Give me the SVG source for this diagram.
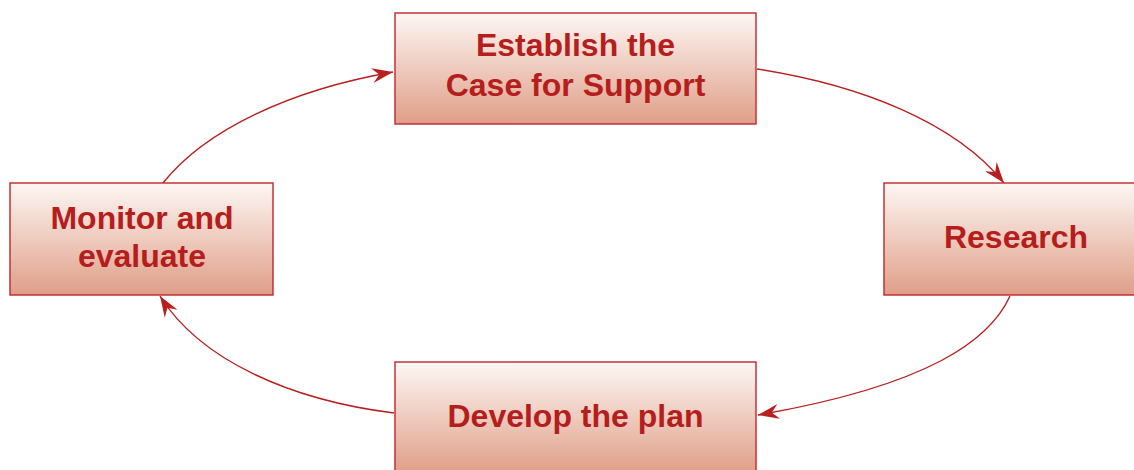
<svg xmlns="http://www.w3.org/2000/svg" width="1134" height="470" viewBox="0 0 1134 470">
<defs>
<linearGradient id="g" x1="0" y1="0" x2="0" y2="1">
<stop offset="0" stop-color="#FDF7F4"/>
<stop offset="1" stop-color="#DF9E87"/>
</linearGradient>
<marker id="ah" markerUnits="userSpaceOnUse" markerWidth="26" markerHeight="18" viewBox="-22 -9 24 18" refX="0" refY="0" orient="auto">
<path d="M0,0 L-21,-7.5 L-14,0 L-21,7.5 Z" fill="#B8201F"/>
</marker>
<style>
.box{fill:url(#g);stroke:#C0262A;stroke-width:1.4}
.t{font-family:"Liberation Sans",Arial,sans-serif;font-weight:bold;font-size:32px;fill:#B51E1C;text-anchor:middle}
.c{fill:none;stroke:#B8201F;stroke-width:1.4;marker-end:url(#ah)}
</style>
</defs>
<g id="connectors">
<path class="c" d="M163,183 C205,130 290,90 393,72"/>
<path class="c" d="M757,69 C860,85 955,122 1004,183"/>
<path class="c" d="M1010,296 C990,340 930,385 758,415"/>
<path class="c" d="M394,413 C290,400 200,360 160,296"/>
</g>
<g id="node-case">
<rect class="box" x="395" y="13" width="361" height="111"/>
<text class="t" x="575.5" y="56">Establish the</text>
<text class="t" x="575.5" y="96">Case for Support</text>
</g>
<g id="node-research">
<rect class="box" x="884" y="183" width="264" height="112"/>
<text class="t" x="1016" y="248">Research</text>
</g>
<g id="node-plan">
<rect class="box" x="395" y="362" width="361" height="112"/>
<text class="t" x="575.5" y="427">Develop the plan</text>
</g>
<g id="node-monitor">
<rect class="box" x="10" y="183" width="263" height="112"/>
<text class="t" x="142" y="229">Monitor and</text>
<text class="t" x="142" y="267">evaluate</text>
</g>
</svg>
